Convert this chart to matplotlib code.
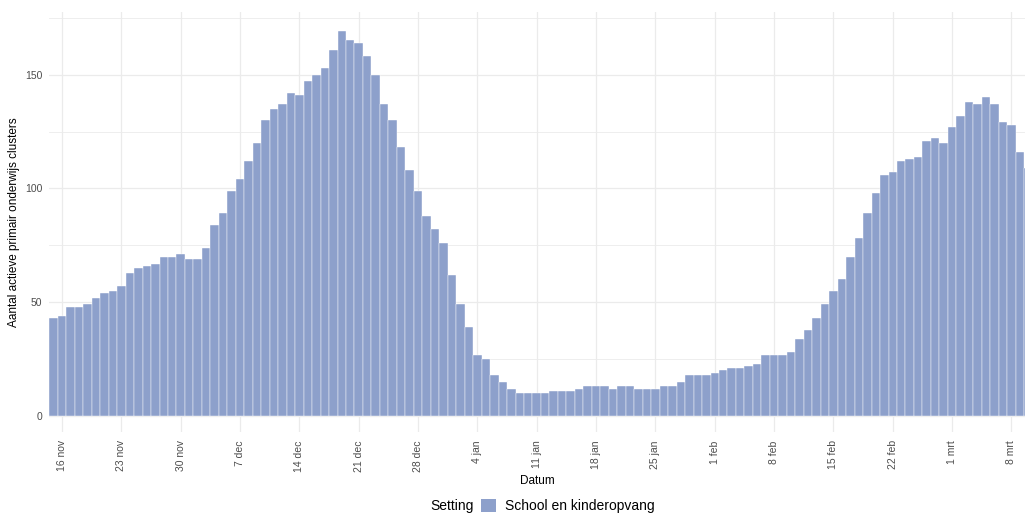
import pandas as pd
import matplotlib
matplotlib.use("Agg")
import matplotlib.pyplot as plt
from matplotlib.patches import Patch

plt.rcParams["font.family"] = ["Liberation Sans", "DejaVu Sans"]

# aantal actieve clusters per dag, vanaf 15 nov 2020
start_datum = "2020-11-15"
clusters = [
    43, 44, 48, 48, 49, 52, 54, 55, 57, 63, 65, 66, 67, 70, 70, 71, 69, 69, 74, 84,
    89, 99, 104, 112, 120, 130, 135, 137, 142, 141, 147, 150, 153, 161, 169, 165, 164, 158, 150, 137,
    130, 118, 108, 99, 88, 82, 76, 62, 49, 39, 27, 25, 18, 15, 12, 10, 10, 10, 10, 11,
    11, 11, 12, 13, 13, 13, 12, 13, 13, 12, 12, 12, 13, 13, 15, 18, 18, 18, 19, 20,
    21, 21, 22, 23, 27, 27, 27, 28, 34, 38, 43, 49, 55, 60, 70, 78, 89, 98, 106, 107,
    112, 113, 114, 121, 122, 120, 127, 132, 138, 137, 140, 137, 129, 128, 116, 109,
]
tick_labels = ["16 nov", "23 nov", "30 nov", "7 dec", "14 dec", "21 dec", "28 dec", "4 jan",
               "11 jan", "18 jan", "25 jan", "1 feb", "8 feb", "15 feb", "22 feb", "1 mrt", "8 mrt"]
setting = "School en kinderopvang"

KLEUR = "#8DA0CB"
GRID = "#EBEBEB"

datums = pd.date_range(start_datum, periods=len(clusters), freq="D")
dag = list(range(len(clusters)))
tick_pos = [i for i, d in enumerate(datums) if (d - pd.Timestamp("2020-11-16")).days % 7 == 0][:len(tick_labels)]

fig = plt.figure(figsize=(10.25, 5.13), dpi=100)
ax = fig.add_axes([0.0481, 0.158, 0.9519, 0.819])

ax.bar(dag, clusters, width=1.0, color=KLEUR, edgecolor="white", linewidth=0.3, zorder=2)

ax.set_xlim(-0.5, 114.6)
ax.set_ylim(-7, 177.6)

ax.set_xticks(tick_pos)
ax.set_xticklabels(tick_labels, rotation=90, fontsize=7.5, color="#4D4D4D")
ax.set_yticks([0, 50, 100, 150])
ax.set_yticks([25, 75, 125, 175], minor=True)
ax.tick_params(axis="y", labelsize=7.5, labelcolor="#4D4D4D", length=0, pad=5)
ax.tick_params(axis="x", length=0, pad=6)
ax.tick_params(which="minor", length=0)

ax.grid(True, which="major", color=GRID, linewidth=0.9, zorder=0)
ax.grid(True, which="minor", axis="y", color=GRID, linewidth=0.6, zorder=0)
ax.set_axisbelow(True)
for s in ax.spines.values():
    s.set_visible(False)

ax.set_xlabel("Datum", fontsize=8.5)
ax.xaxis.set_label_coords(0.5, -0.102)
ax.set_ylabel("Aantal actieve primair onderwijs clusters", fontsize=8.5)
ax.yaxis.set_label_coords(-0.030, 0.5)

# legenda onderaan: "Setting" + vakje
fig.text(430 / 1025, 1 - 506 / 513, "Setting", fontsize=10, va="center", ha="left")
fig.legend(handles=[Patch(facecolor=KLEUR, edgecolor="none", label=setting)],
           loc="center left", bbox_to_anchor=(481 / 1025, 1 - 506 / 513),
           frameon=False, fontsize=10, handlelength=1.1, handleheight=1.1,
           handletextpad=0.65, borderpad=0, borderaxespad=0)

fig.savefig("out.png", dpi=100, facecolor="white")
